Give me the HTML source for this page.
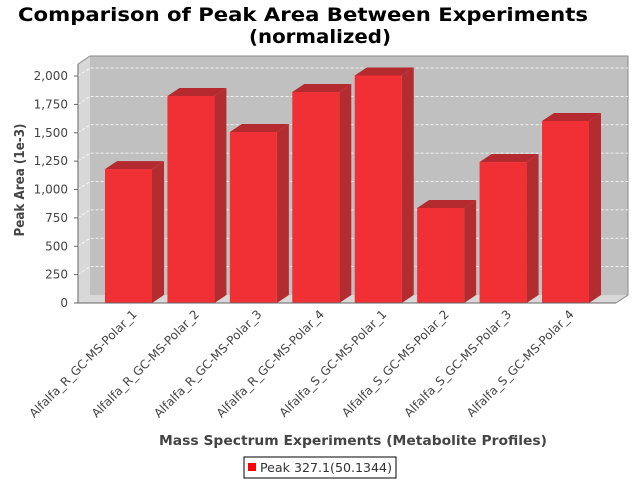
<!DOCTYPE html>
<html><head><meta charset="utf-8"><style>body{margin:0;background:#fff}svg{display:block;font-family:"DejaVu Sans","Liberation Sans",sans-serif}</style></head>
<body>
<svg id="chart" width="640" height="480" viewBox="0 0 640 480">
<text x="303" y="21" text-anchor="middle" font-size="19" font-weight="bold" fill="#000" textLength="570" lengthAdjust="spacingAndGlyphs">Comparison of Peak Area Between Experiments</text>
<text x="320" y="43" text-anchor="middle" font-size="19" font-weight="bold" fill="#000" textLength="142" lengthAdjust="spacingAndGlyphs">(normalized)</text>
<g id="plot"></g>
<text transform="translate(24,180) rotate(-90)" text-anchor="middle" font-size="13" font-weight="bold" fill="#444" textLength="113" lengthAdjust="spacingAndGlyphs">Peak Area (1e-3)</text>
<text x="353" y="445" text-anchor="middle" font-size="13" font-weight="bold" fill="#444" textLength="388" lengthAdjust="spacingAndGlyphs">Mass Spectrum Experiments (Metabolite Profiles)</text>
<g>
<rect x="244" y="457" width="152" height="21" fill="#fff" stroke="#000" stroke-width="1"/>
<rect x="248" y="463" width="8" height="8" fill="#ff0000"/>
<text x="260" y="472" font-size="12" fill="#333" textLength="132" lengthAdjust="spacingAndGlyphs">Peak 327.1(50.1344)</text>
</g>
</svg>
<script>
const categories=["Alfalfa_R_GC-MS-Polar_1","Alfalfa_R_GC-MS-Polar_2","Alfalfa_R_GC-MS-Polar_3","Alfalfa_R_GC-MS-Polar_4","Alfalfa_S_GC-MS-Polar_1","Alfalfa_S_GC-MS-Polar_2","Alfalfa_S_GC-MS-Polar_3","Alfalfa_S_GC-MS-Polar_4"];
const values=[1180,1824,1507,1859,2005,837,1242,1604];
const ticks=[0,250,500,750,1000,1250,1500,1750,2000];
const tickLabels=["0","250","500","750","1,000","1,250","1,500","1,750","2,000"];
const NS="http://www.w3.org/2000/svg";
const g=document.getElementById('plot');
const L=78,R=616,B=303,DX=12,DY=-8,VMAX=2106,T=64;
const y=v=>B-(v/VMAX)*(B-T);
const bw=47,x0=105;
const xc=i=>x0+i*62.43;
function el(t,a,p){const e=document.createElementNS(NS,t);for(const k in a)e.setAttribute(k,a[k]);(p||g).appendChild(e);return e;}
let w=el('polygon',{points:`${L},${B} ${L},${T} ${L+DX},${T+DY} ${L+DX},${B+DY}`,fill:'#d8d8d8'});

w=el('polygon',{points:`${L},${B} ${L+DX},${B+DY} ${R+DX},${B+DY} ${R},${B}`,fill:'#d8d8d8'});

w=el('rect',{x:L+DX,y:T+DY,width:R-L,height:B-T,fill:'#c0c0c0'});

el('polyline',{points:`${L},${T} ${L+DX},${T+DY} ${R+DX},${T+DY} ${R+DX},${B+DY} ${R},${B}`,fill:'none',stroke:'#888'});
ticks.forEach((t,i)=>{
 const yy=y(t);
 if(t>0){const gl=el('polyline',{points:`${L},${yy} ${L+DX},${yy+DY} ${R+DX},${yy+DY}`,fill:'none',stroke:'#fff','stroke-dasharray':'3,2','stroke-width':'0.8'});
 }
 el('line',{x1:L-4,x2:L,y1:yy,y2:yy,stroke:'#666'});
 const tx=el('text',{x:L-10,y:yy+4,'text-anchor':'end','font-size':'12',fill:'#444'});
 
 tx.textContent=tickLabels[i];
});
el('line',{x1:L,x2:L,y1:T,y2:B,stroke:'#666'});
values.forEach((v,i)=>{
 const x=xc(i),yt=y(v);
 const bg=el('g',{});
 
 el('polygon',{points:`${x+bw},${B} ${x+bw},${yt} ${x+bw+DX},${yt+DY} ${x+bw+DX},${B+DY}`,fill:'#b22c30'},bg);
 el('polygon',{points:`${x},${yt} ${x+DX},${yt+DY} ${x+bw+DX},${yt+DY} ${x+bw},${yt}`,fill:'#b52a2e'},bg);
 el('rect',{x:x,y:yt,width:bw,height:B-yt,fill:'#f03035'},bg);
 const lb=el('text',{transform:`translate(${x+bw/2+9},${B+12}) rotate(-45)`,'text-anchor':'end','font-size':'12',fill:'#444'});
 
 lb.textContent=categories[i];
});
el('line',{x1:L,x2:R,y1:B,y2:B,stroke:'#666'});
</script>
</body></html>
